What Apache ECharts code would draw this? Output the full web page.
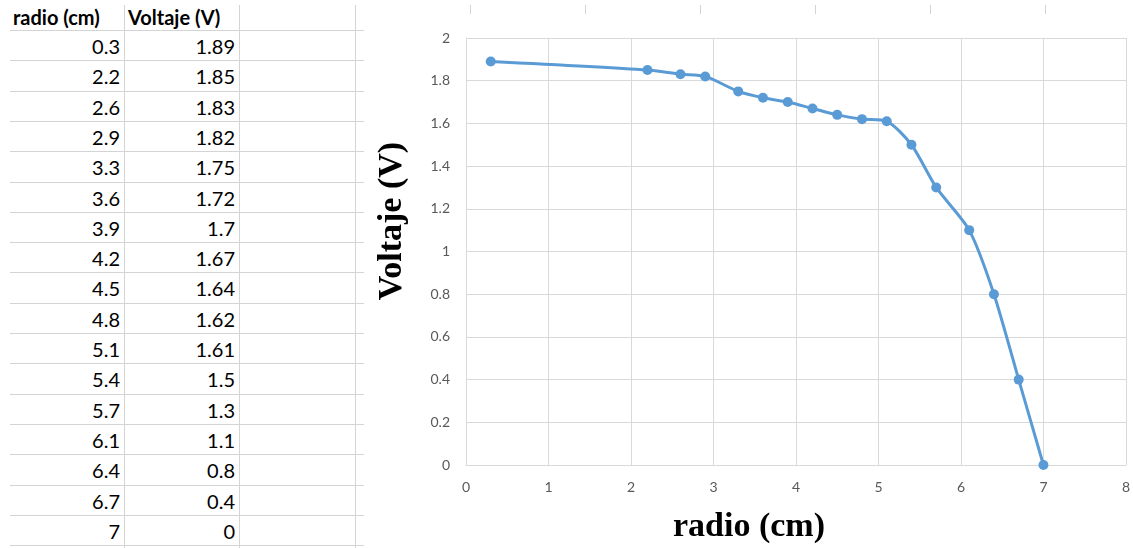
<!DOCTYPE html>
<html>
<head>
<meta charset="utf-8">
<script src="https://cdn.jsdelivr.net/npm/echarts@6/dist/echarts.min.js"></script>
<style>
  html, body { margin: 0; padding: 0; background: #fff; }
  body { width: 1133px; height: 548px; position: relative; overflow: hidden; font-family: Lato, "Open Sans", sans-serif; }
  .hl { position: absolute; height: 1px; background: #d4d4d4; }
  .vl { position: absolute; width: 1px; background: #d4d4d4; }
  .cell { position: absolute; font-size: 20px; color: #000; line-height: 20px; white-space: nowrap; }
  .hdr { font-weight: bold; }
  #chart { position: absolute; left: 364px; top: 14px; width: 769px; height: 534px; background: #fff; }
</style>
</head>
<body>
<div id="sheet"></div>
<div id="chart"></div>
<script>
// Measurements: radius (cm) and voltage (V)
const radio = [0.3, 2.2, 2.6, 2.9, 3.3, 3.6, 3.9, 4.2, 4.5, 4.8, 5.1, 5.4, 5.7, 6.1, 6.4, 6.7, 7];
const voltaje = [1.89, 1.85, 1.83, 1.82, 1.75, 1.72, 1.7, 1.67, 1.64, 1.62, 1.61, 1.5, 1.3, 1.1, 0.8, 0.4, 0];
const headers = ['radio (cm)', 'Voltaje (V)'];
const xTitle = 'radio (cm)';
const yTitle = 'Voltaje (V)';

// Spreadsheet grid and data table
const sheet = document.getElementById('sheet');
const rowH = 30.3;
const firstLine = 30;
const colLines = [124, 239, 355, 470, 585, 700, 815, 930, 1045];
function add(cls, style, text) {
  const d = document.createElement('div');
  d.className = cls;
  Object.assign(d.style, style);
  if (text !== undefined) d.textContent = text;
  sheet.appendChild(d);
  return d;
}
for (let k = 0; k < 18; k++) {
  add('hl', { left: '10px', width: '1123px', top: Math.round(firstLine + rowH * k) + 'px' });
}
colLines.forEach(x => add('vl', { left: x + 'px', top: '5px', height: '543px' }));

add('cell hdr', { left: '13px', top: '7px' }, headers[0]);
add('cell hdr', { left: '128px', top: '7px' }, headers[1]);
radio.forEach((r, i) => {
  const top = Math.round(36 + rowH * i) + 'px';
  add('cell', { left: '10px', width: '110px', textAlign: 'right', top: top }, String(r));
  add('cell', { left: '125px', width: '110px', textAlign: 'right', top: top }, String(voltaje[i]));
});

// Scatter chart with smoothed line
const chart = echarts.init(document.getElementById('chart'), null, { renderer: 'canvas' });
const labelStyle = { color: '#595959', fontSize: 14, fontFamily: 'Lato, "Open Sans", sans-serif' };
const gridLine = { show: true, lineStyle: { color: '#d9d9d9', width: 1 } };
const titleFont = 'bold 34px "Liberation Serif", "Times New Roman", serif';
chart.setOption({
  animation: false,
  backgroundColor: '#fff',
  grid: { left: 102, right: 6, top: 24, bottom: 83 },
  xAxis: {
    type: 'value', min: 0, max: 8, interval: 1,
    axisLine: { show: true, lineStyle: { color: '#d9d9d9' } },
    axisTick: { show: false },
    axisLabel: Object.assign({ margin: 15 }, labelStyle),
    splitLine: gridLine
  },
  yAxis: {
    type: 'value', min: 0, max: 2, interval: 0.2,
    axisLine: { show: true, lineStyle: { color: '#d9d9d9' } },
    axisTick: { show: false },
    axisLabel: Object.assign({ margin: 16, formatter: v => String(+v.toFixed(1)) }, labelStyle),
    splitLine: gridLine
  },
  graphic: [
    {
      type: 'text', x: 385, y: 513,
      style: { text: xTitle, font: titleFont, fill: '#000', textAlign: 'center', textVerticalAlign: 'middle' }
    },
    {
      type: 'text', x: 28, y: 207, rotation: Math.PI / 2,
      style: { text: yTitle, font: titleFont, fill: '#000', textAlign: 'center', textVerticalAlign: 'middle' }
    }
  ],
  series: [{
    type: 'line',
    data: radio.map((r, i) => [r, voltaje[i]]),
    smooth: 0.25,
    symbol: 'circle',
    symbolSize: 10,
    lineStyle: { color: '#5b9bd5', width: 3 },
    itemStyle: { color: '#5b9bd5' }
  }]
});
</script>
</body>
</html>
